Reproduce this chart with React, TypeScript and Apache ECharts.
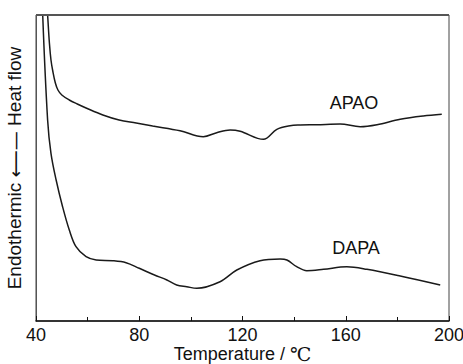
import React, { useEffect, useRef } from "react";
import * as echarts from "echarts";

// Temperature (°C) and heat flow (arbitrary units)
const apaoT = [43.5, 44.5, 45.2, 45.8, 46.5, 47.5, 48.5, 50.0, 52.9, 56.0, 59.4, 65.9, 72.2, 78.8, 85.2, 95.8, 104.8, 110.0, 115.2, 119.1, 128.1, 133.3, 138.4, 142.3, 148.8, 157.8, 165.6, 172.1, 181.1, 190.0, 197.2];
const apaoV = [345, 306, 277.7, 261, 250, 238, 231, 226, 221, 217, 213, 206, 201, 198, 195, 190.3, 184.3, 188.3, 191, 189.7, 181.7, 191.7, 195.3, 196, 196.3, 197, 194.3, 196.3, 201.7, 205, 206.7];

const dapaT = [42.0, 42.6, 44.5, 45.8, 47.8, 50.3, 52.9, 55.5, 59.4, 63.3, 69.7, 74.9, 80.0, 85.9, 90.7, 94.5, 98.4, 102.3, 111.3, 117.8, 126.8, 134.6, 137.2, 141.0, 144.9, 151.4, 160.4, 168.2, 181.1, 196.6];
const dapaV = [370, 306, 201, 167.7, 141, 114.3, 91, 74.3, 64.3, 61, 60.3, 58.3, 52.7, 46, 41, 36, 34.3, 32.7, 39.3, 51, 60.3, 62, 61, 54.3, 50.3, 51.7, 54.3, 51.7, 45, 36];

const xTicks = [40, 80, 120, 160, 200];
const seriesNames = ["APAO", "DAPA"];

export default function App() {
  const ref = useRef<HTMLDivElement>(null);
  useEffect(() => {
    if (!ref.current) return;
    const chart = echarts.init(ref.current, null, { renderer: "svg" });
    const sans = "'Liberation Sans', Arial, sans-serif";
    const serif = "'Liberation Serif', 'DejaVu Serif', serif";
    chart.setOption({
      animation: false,
      grid: {
        left: 36, right: 14, top: 15, bottom: 43,
        outerBoundsMode: "none", containLabel: false,
        show: true, borderColor: "#444", borderWidth: 1, backgroundColor: "transparent",
      },
      xAxis: [
        {
          type: "value",
          min: xTicks[0],
          max: xTicks[xTicks.length - 1],
          interval: 40,
          position: "bottom",
          axisLine: { onZero: false, lineStyle: { color: "#111", width: 1.5 } },
          axisTick: { inside: true, length: 5, lineStyle: { color: "#111", width: 1 } },
          minorTick: { show: true, splitNumber: 2, length: 4, lineStyle: { color: "#111", width: 1 } },
          splitLine: { show: false },
          axisLabel: { color: "#111", fontSize: 18, fontFamily: sans, margin: 5 },
          name: "{a|Temperature / }{b|℃}",
          nameLocation: "middle",
          nameGap: 24,
          nameMoveOverlap: false,
          nameTextStyle: {
            lineHeight: 18,
            rich: {
              a: { fontSize: 18, lineHeight: 18, fontFamily: sans, color: "#111" },
              b: { fontSize: 19, lineHeight: 18, fontFamily: serif, color: "#111" },
            },
          },
        },
      ],
      yAxis: [
        {
          type: "value",
          min: 0,
          max: 306,
          position: "left",
          axisLine: { show: true, onZero: false, lineStyle: { color: "#555", width: 1 } },
          axisTick: { show: false },
          axisLabel: { show: false },
          splitLine: { show: false },
          name: "{a|Endothermic }{b|⟵—}{a| Heat flow}",
          nameLocation: "middle",
          nameGap: 12,
          nameRotate: 90,
          nameMoveOverlap: false,
          nameTextStyle: {
            rich: {
              a: { fontSize: 19, fontFamily: sans, color: "#111" },
              b: { fontSize: 19, fontFamily: "'DejaVu Sans', sans-serif", color: "#111" },
            },
          },
        },
      ],
      series: [
        {
          name: seriesNames[0],
          type: "line",
          data: apaoT.map((t, i) => [t, apaoV[i]]),
          showSymbol: false,
          smooth: 0.35,
          clip: true,
          lineStyle: { color: "#1a1a1a", width: 1.5 },
        },
        {
          name: seriesNames[1],
          type: "line",
          data: dapaT.map((t, i) => [t, dapaV[i]]),
          showSymbol: false,
          smooth: 0.35,
          clip: true,
          lineStyle: { color: "#1a1a1a", width: 1.5 },
        },
      ],
      graphic: [
        {
          type: "line",
          shape: { x1: 36, y1: 15, x2: 449, y2: 15 },
          style: { stroke: "#555", lineWidth: 2 },
          z: 10,
        },
        {
          type: "text",
          x: 354,
          y: 103,
          style: { text: seriesNames[0], fontSize: 18, fontFamily: sans, fill: "#111", align: "center", verticalAlign: "middle" },
        },
        {
          type: "text",
          x: 356,
          y: 248,
          style: { text: seriesNames[1], fontSize: 18, fontFamily: sans, fill: "#111", align: "center", verticalAlign: "middle" },
        },
      ],
    });
    return () => chart.dispose();
  }, []);
  return <div ref={ref} style={{ width: 463, height: 364, position: "absolute", left: 0, top: 0 }} />;
}
